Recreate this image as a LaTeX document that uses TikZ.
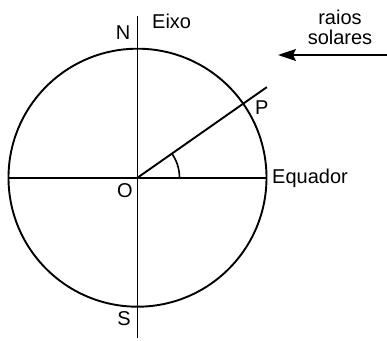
\documentclass[tikz,border=0pt]{standalone}
\usepackage{fontspec}
\setmainfont{Liberation Sans}
\usetikzlibrary{arrows.meta,calc}
\begin{document}
\begin{tikzpicture}[x=1pt,y=1pt,
  ln/.style={line width=1.9pt},
  lbl/.style={font=\fontsize{20}{22}\selectfont, inner sep=0pt}]
\useasboundingbox (0,0) rectangle (387,340);
\coordinate (O) at (137.5,162.3);
\coordinate (Ntop) at (137.5,324);
\coordinate (Sbot) at (137.5,2);
\coordinate (Wq) at (8.5,162.3);
\coordinate (Eq) at (266.5,162.3);
\coordinate (Pend) at ($(O)+(35:158)$);
\coordinate (A1) at (387,285);
\coordinate (A2) at (278,285);
\draw[ln] (O) circle (129);
\draw[ln] (Ntop) -- (Sbot);
\draw[ln] (Wq) -- (Eq);
\draw[ln] (O) -- (Pend);
\draw[line width=1.6pt] ($(O)+(42,0)$) arc (0:35:42);
\draw[ln,-{Stealth[length=18pt,width=12pt,inset=3pt]}] (A1) -- (A2);
\node[lbl,anchor=west] (eixo) at (152,318.3) {Eixo};
\node[lbl] (N) at (123,307) {N};
\node[lbl] (raios) at (340,323) {raios};
\node[lbl] (solares) at (340,302.5) {solares};
\node[lbl] (P) at (261.7,232.3) {P};
\node[lbl,anchor=west] (equador) at (272,161.5) {Equador};
\node[lbl] (Olab) at (125,149.3) {O};
\node[lbl] (S) at (124,21) {S};
\end{tikzpicture}
\end{document}
